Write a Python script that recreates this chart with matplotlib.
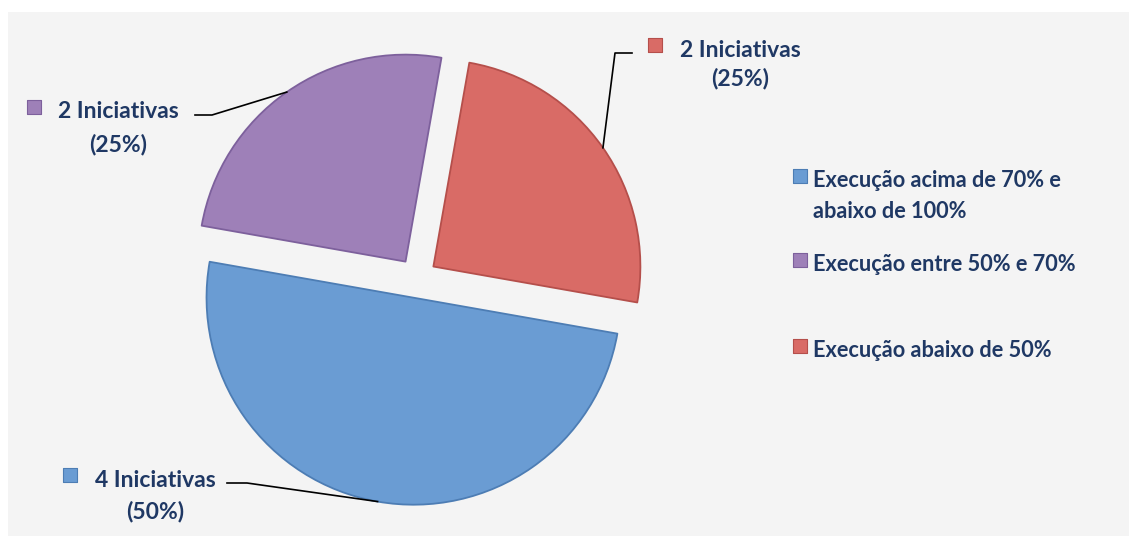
import matplotlib.pyplot as plt
from matplotlib.patches import Rectangle
import numpy as np

# dados
categorias = ["Execução acima de 70% e\nabaixo de 100%",
              "Execução entre 50% e 70%",
              "Execução abaixo de 50%"]
iniciativas = [4, 2, 2]
cores = ["#6a9cd3", "#9e80b8", "#d96b66"]
bordas = ["#4d7db4", "#7d609c", "#b54f4b"]

W, H = 1129, 536
azul_texto = "#1f3864"
plt.rcParams['font.family'] = ['Lato', 'DejaVu Sans']

fig = plt.figure(figsize=(W / 100, H / 100), dpi=100)
fig.patch.set_facecolor('white')
ax = fig.add_axes([0, 0, 1, 1])
ax.set_facecolor('none')

def py(y):  # linha da imagem -> y dos dados
    return H - y

# fundo cinza
ax.add_patch(Rectangle((8, 0), W, H - 12, facecolor='#f4f4f4', edgecolor='none', zorder=-10))

wedges, _ = ax.pie(iniciativas, colors=cores, startangle=-10, counterclock=False,
                   explode=[20, 20, 20], radius=207, center=(417, py(278)),
                   wedgeprops=dict(linewidth=1.3))
for w, b in zip(wedges, bordas):
    w.set_edgecolor(b)
    w.set_joinstyle('round')

ax.set_xlim(0, W)
ax.set_ylim(0, H)
ax.set_aspect('equal')
ax.axis('off')

# rótulos com linha de chamada
total = sum(iniciativas)
rot_x = [155, 118, 740]          # centro do texto
rot_y = [487, 118, 57]           # linha de base da 1a linha
rot_dy = [31, 33, 28]
marca = [(70, 475), (34, 107), (655, 45)]
chamada = [(227, 247, 483), (195, 212, 115), (632, 615, 53)]

for i, w in enumerate(wedges):
    n = iniciativas[i]
    pct = n / total * 100
    ax.text(rot_x[i], py(rot_y[i]), f"{n} Iniciativas", ha='center', va='baseline',
            fontsize=16.5, fontweight='bold', color=azul_texto)
    ax.text(rot_x[i], py(rot_y[i] + rot_dy[i]), f"({pct:.0f}%)", ha='center', va='baseline',
            fontsize=16.5, fontweight='bold', color=azul_texto)
    ax.scatter(marca[i][0], py(marca[i][1]), marker='s', s=110, color=cores[i],
               edgecolor=bordas[i], linewidth=0.8, zorder=5)
    tm = np.deg2rad((w.theta1 + w.theta2) / 2)
    ax_ = w.center[0] + w.r * np.cos(tm)
    ay_ = w.center[1] + w.r * np.sin(tm)
    x0, x1, yl = chamada[i]
    ax.plot([x0, x1, ax_], [py(yl), py(yl), ay_], color='black', linewidth=1.2, zorder=4)

# legenda
leg_y = [187, 271, 357]
for i, cat in enumerate(categorias):
    ax.scatter(800, py(leg_y[i] - 11), marker='s', s=110, color=cores[i],
               edgecolor=bordas[i], linewidth=0.8, zorder=5)
    for k, linha in enumerate(cat.split("\n")):
        ax.text(813, py(leg_y[i] + 31 * k), linha, ha='left', va='baseline',
                fontsize=15.7, fontweight='bold', color=azul_texto)

fig.savefig("out.png", dpi=100)
